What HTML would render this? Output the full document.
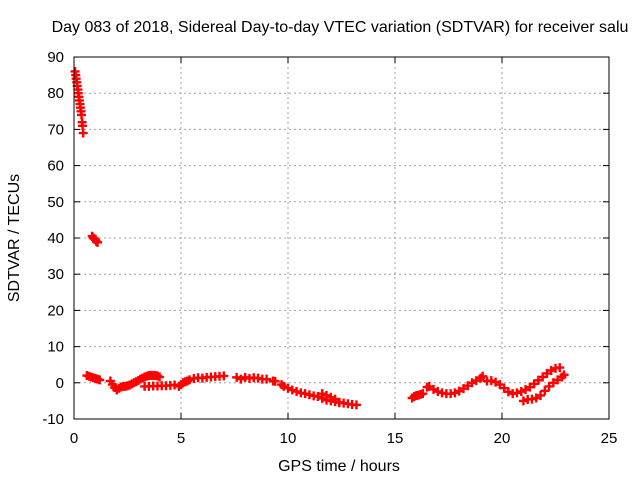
<!DOCTYPE html>
<html><head><meta charset="utf-8"><style>
body{margin:0;background:#fff}
svg{display:block;font-family:"Liberation Sans",sans-serif}
</style></head><body>
<svg id="chart" width="640" height="480">
<text x="340" y="32" font-size="16" text-anchor="middle">Day 083 of 2018, Sidereal Day-to-day VTEC variation (SDTVAR) for receiver salu</text>
<text x="339" y="471" font-size="16" text-anchor="middle">GPS time / hours</text>
<text transform="translate(19,238) rotate(-90)" font-size="16" text-anchor="middle">SDTVAR / TECUs</text>
<g id="grid"></g><g id="ticks"></g><g id="marks"></g>
<rect x="74" y="57" width="535" height="362" fill="none" stroke="#000" stroke-width="1"/>
</svg>
<script>
const xTicks=[0,5,10,15,20,25];
const yTicks=[-10,0,10,20,30,40,50,60,70,80,90];
const seg1T=[0.05,0.08,0.1,0.13,0.15,0.18,0.2,0.23,0.25,0.28,0.3,0.33,0.35,0.38,0.4,0.43];
const seg1V=[86,85,84,83,82,81,80,79,78,77,76,75,74,72,71,69];
const seg2T=[0.85,0.9,0.95,1.0,1.05,1.1];
const seg2V=[40.5,40,39.8,39.5,39,38.8];
const seg3T=[0.6,0.7,0.8,0.9,1.0,1.1,1.2,1.7,1.8,1.9,2.0,2.1,2.2,2.3];
const seg3V=[2,1.8,1.6,1.4,1.2,1,0.8,0.5,-0.5,-1.3,-2,-1.5,-1.2,-1];
const seg4T=[2.4,2.5,2.6,2.7,2.8,2.9,3.0,3.1,3.2,3.3,3.4,3.5,3.6,3.7,3.8,3.9,4.0];
const seg4V=[-1,-0.8,-0.6,-0.3,0,0.3,0.6,1,1.3,1.6,1.8,2,2,2,2,1.9,1.6];
const seg5T=[3.3,3.5,3.7,3.9,4.1,4.3,4.5,4.7,4.9,5.0,5.1,5.2,5.3];
const seg5V=[-1,-1,-0.9,-0.9,-0.8,-0.8,-0.7,-0.6,-1,-0.5,0,0.3,0.5];
const seg6T=[5.4,5.6,5.8,6.0,6.2,6.4,6.6,6.8,7.0];
const seg6V=[0.8,1.2,1.4,1.3,1.5,1.6,1.7,1.8,1.9];
const seg7T=[7.6,7.8,8.0,8.2,8.4,8.6,8.8,9.0,9.3,9.4,9.7,9.8];
const seg7V=[1.5,1,1.5,1.2,1.4,1.3,1,1,0.5,0.4,-0.5,-1];
const seg8T=[10.0,10.2,10.4,10.6,10.8,11.0,11.2,11.4,11.6,11.8,12.0,12.2,12.4,12.6,12.8,13.0,13.2];
const seg8V=[-1.5,-2,-2.4,-2.8,-3,-3.3,-3.6,-3.8,-4.3,-4.8,-5,-5.2,-5.4,-5.6,-5.8,-6,-6.1];
const seg9T=[11.6,11.8,12.0,12.2,12.4];
const seg9V=[-3,-3.5,-4,-4.5,-5.5];
const seg10T=[15.8,15.9,16.0,16.1,16.2,16.3];
const seg10V=[-4.2,-3.8,-3.5,-3.4,-3.2,-3];
const seg11T=[16.5,16.6,16.8,17.0,17.2,17.4,17.6,17.8,18.0,18.2,18.4,18.6,18.8,19.0,19.1];
const seg11V=[-1.2,-1,-1.8,-2.4,-2.8,-3,-3,-2.8,-2.3,-1.6,-0.8,0,0.6,1.3,1.8];
const seg12T=[19.3,19.5,19.7,19.9,20.1,20.3,20.5,20.7,20.9,21.1,21.3,21.5,21.7,21.9,22.1,22.3,22.5,22.7];
const seg12V=[0.5,0.6,0.2,-0.5,-1.5,-2.5,-3,-2.8,-2.4,-1.9,-1.2,-0.3,0.7,1.6,2.6,3.4,4,4.2];
const seg13T=[21.0,21.2,21.4,21.6,21.8,22.0,22.2,22.4,22.6,22.8,22.9];
const seg13V=[-5,-4.6,-4.5,-4.2,-3.5,-2.2,-1,0,0.8,1.6,2.2];
const segT=[seg1T,seg2T,seg3T,seg4T,seg5T,seg6T,seg7T,seg8T,seg9T,seg10T,seg11T,seg12T,seg13T];
const segV=[seg1V,seg2V,seg3V,seg4V,seg5V,seg6V,seg7V,seg8V,seg9V,seg10V,seg11V,seg12V,seg13V];

const X0=74,X1=609,Y0=419,Y1=57;
const xs=v=>X0+(v-0)/(25-0)*(X1-X0);
const ys=v=>Y0-(v+10)/100*(Y0-Y1);
const NS='http://www.w3.org/2000/svg';
function mk(tag,attrs,parent){const e=document.createElementNS(NS,tag);for(const k in attrs)e.setAttribute(k,attrs[k]);parent.appendChild(e);return e;}
const grid=document.getElementById('grid'),ticks=document.getElementById('ticks'),marks=document.getElementById('marks');
xTicks.forEach(t=>{const x=xs(t);
 if(t>0&&t<25){const l=mk('line',{x1:x,x2:x,y1:Y0,y2:Y1,stroke:'#a0a0a0','stroke-dasharray':'2,3'},grid);
 
 }
 mk('line',{x1:x,x2:x,y1:Y0,y2:Y0-6,stroke:'#000'},ticks);
 mk('line',{x1:x,x2:x,y1:Y1,y2:Y1+6,stroke:'#000'},ticks);
 const tx=mk('text',{x:x,y:Y0+24,'font-size':15,'text-anchor':'middle'},ticks);tx.textContent=t;
 
 });
yTicks.forEach(t=>{const y=ys(t);
 if(t>-10&&t<90){const l=mk('line',{x1:X0,x2:X1,y1:y,y2:y,stroke:'#a0a0a0','stroke-dasharray':'2,3'},grid);
 
 }
 mk('line',{x1:X0,x2:X0+6,y1:y,y2:y,stroke:'#000'},ticks);
 mk('line',{x1:X1,x2:X1-6,y1:y,y2:y,stroke:'#000'},ticks);
 const tx=mk('text',{x:X0-10,y:y+5,'font-size':15,'text-anchor':'end'},ticks);tx.textContent=t;
 
 });
segT.forEach((ts,i)=>{const vs=segV[i];
 for(let j=0;j<ts.length;j++){
  const x=xs(ts[j]),y=ys(vs[j]);
  const p=mk('path',{d:`M${x-4.5},${y}H${x+4.5}M${x},${y-4.5}V${y+4.5}`,stroke:'#f00','stroke-width':2.4,fill:'none'},marks);
  
  
 }});
</script>
</body></html>
